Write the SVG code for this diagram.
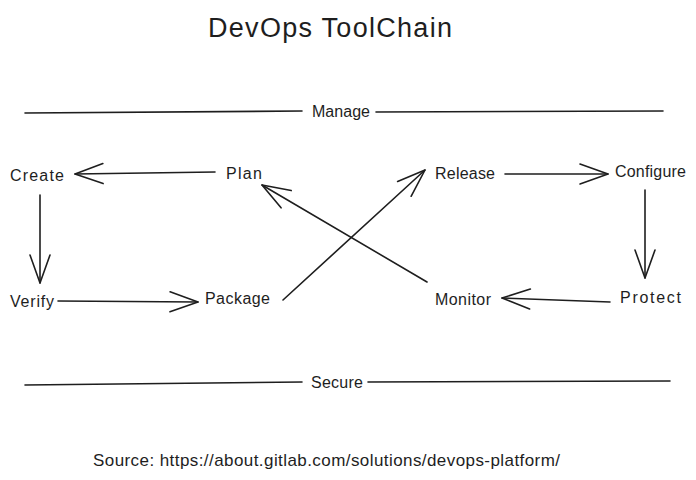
<svg xmlns="http://www.w3.org/2000/svg" width="696" height="480" viewBox="0 0 696 480">
<style>
text{font-family:"Liberation Sans","DejaVu Sans",sans-serif;fill:#1e1e1e}
.n{font-size:16px}
.t{font-size:27px}
.s{font-size:17px}
.ln{stroke:#1e1e1e;stroke-width:1.6;fill:none;stroke-linecap:round}
.ar{stroke:#1e1e1e;stroke-width:1.6;fill:none;stroke-linecap:round;marker-end:url(#ah)}
</style>
<defs>
<marker id="ah" markerUnits="userSpaceOnUse" viewBox="-32 -14 36 28" refX="0" refY="0" markerWidth="36" markerHeight="28" orient="auto">
<path d="M-28,-10 L0,0 L-28,10" fill="none" stroke="#1e1e1e" stroke-width="1.6" stroke-linecap="round" stroke-linejoin="round"/>
</marker>
</defs>
<rect width="696" height="480" fill="#ffffff"/>
<text class="t" x="208" y="37" textLength="244" lengthAdjust="spacing">DevOps ToolChain</text>
<g id="manage">
<line class="ln" x1="25" y1="113" x2="302" y2="111"/>
<line class="ln" x1="376" y1="112" x2="663" y2="111"/>
<text class="n" x="312" y="117" textLength="58" lengthAdjust="spacing">Manage</text>
</g>
<g id="secure">
<line class="ln" x1="25" y1="385" x2="302" y2="382"/>
<line class="ln" x1="368" y1="382" x2="670" y2="381"/>
<text class="n" x="311" y="388" textLength="52" lengthAdjust="spacing">Secure</text>
</g>
<g id="create"><text class="n" x="10" y="181" textLength="54" lengthAdjust="spacing">Create</text></g>
<g id="plan"><text class="n" x="226" y="179" textLength="36" lengthAdjust="spacing">Plan</text></g>
<g id="release"><text class="n" x="435" y="179" textLength="60" lengthAdjust="spacing">Release</text></g>
<g id="configure"><text class="n" x="615" y="177" textLength="71" lengthAdjust="spacing">Configure</text></g>
<g id="verify"><text class="n" x="10" y="307" textLength="44" lengthAdjust="spacing">Verify</text></g>
<g id="package"><text class="n" x="205" y="304" textLength="65" lengthAdjust="spacing">Package</text></g>
<g id="monitor"><text class="n" x="435" y="305" textLength="56" lengthAdjust="spacing">Monitor</text></g>
<g id="protect"><text class="n" x="620" y="303" textLength="61" lengthAdjust="spacing">Protect</text></g>
<g id="connectors">
<line class="ar" x1="215" y1="172" x2="75" y2="174"/>
<line class="ar" x1="40" y1="195" x2="40" y2="283"/>
<line class="ar" x1="58" y1="301" x2="198" y2="302"/>
<line class="ar" x1="283" y1="300" x2="425" y2="170"/>
<line class="ar" x1="427" y1="282" x2="262" y2="185"/>
<line class="ar" x1="505" y1="174" x2="608" y2="174"/>
<line class="ar" x1="645" y1="190" x2="645" y2="278"/>
<line class="ar" x1="610" y1="302" x2="502" y2="298"/>
</g>
<text class="s" x="93" y="466" textLength="467" lengthAdjust="spacing">Source: https://about.gitlab.com/solutions/devops-platform/</text>
</svg>
